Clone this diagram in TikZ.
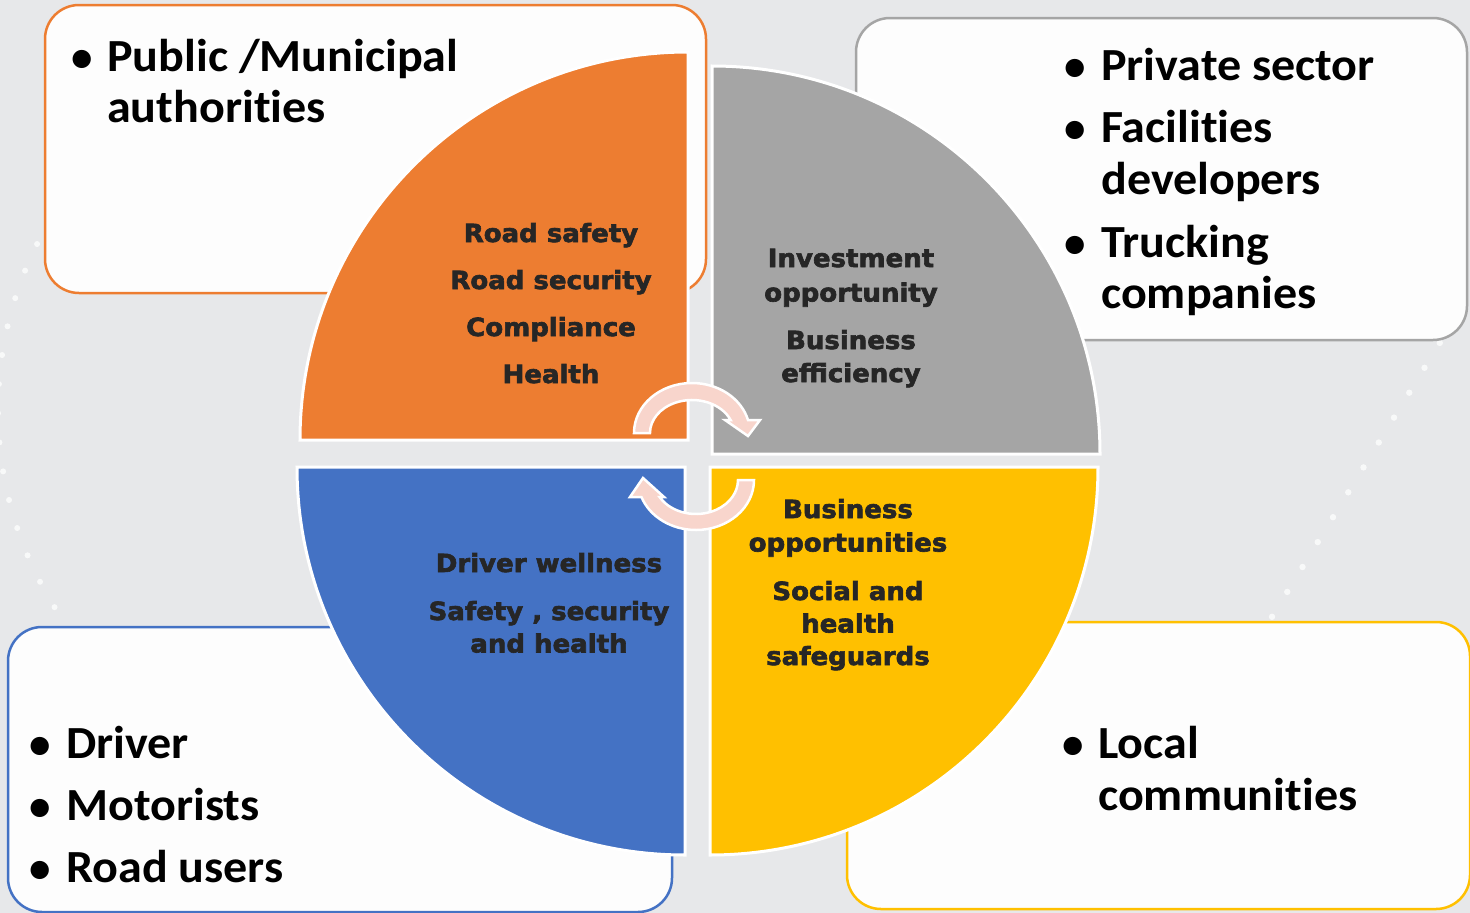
\documentclass[tikz,border=0pt]{standalone}
\usepackage{fontspec}
\newfontfamily\boxfont{Carlito}[FakeStretch=1.045, Ligatures=NoCommon]
\newfontfamily\bulfont{Carlito}
\newfontfamily\quadfont{DejaVu Sans}[FakeBold=2.5, FakeStretch=1.04]
\definecolor{bgc}{HTML}{E7E8EA}
\definecolor{orangeq}{HTML}{ED7D31}
\definecolor{grayq}{HTML}{A5A5A5}
\definecolor{yellowq}{HTML}{FFC000}
\definecolor{blueq}{HTML}{4472C4}
\definecolor{pinkA}{HTML}{F8D5CC}
\definecolor{qdark}{HTML}{262626}
\definecolor{boxfill}{HTML}{FDFDFD}
\tikzset{
  boxst/.style={fill=boxfill, line width=2.5pt, rounded corners=34pt},
  quad/.style={draw=white, line width=3pt, line join=miter},
  cyc/.style={fill=pinkA, draw=white, line width=2.5pt, line join=miter},
  boxtxt/.style={font=\boxfont\bfseries\fontsize{46}{52}\selectfont, inner sep=0pt, anchor=base west},
  bul/.style={font=\bulfont\bfseries\fontsize{43}{48}\selectfont, inner sep=0pt, anchor=base},
  qtxt/.style={font=\quadfont\bfseries\fontsize{25}{30}\selectfont, text=qdark, inner sep=0pt, anchor=base},
  dotst/.style={fill=white, opacity=0.75}
}
\begin{document}
\begin{tikzpicture}[x=1pt,y=-1pt]
\useasboundingbox (0,0) rectangle (1470,913);
\fill[bgc] (0,0) rectangle (1470,913);
% decorative dots
\foreach \i in {0,...,13} \fill[dotst] ({1455-15.25*\i},{318+24.9*\i}) circle (3.2);
\foreach \a in {148,152.5,...,212} \fill[dotst] ({370+372*cos(\a)},{410+372*sin(\a)}) circle (3);
% boxes
\draw[boxst, draw=orangeq] (45,5) rectangle (706,293);
\draw[boxst, draw=grayq] (856,18) rectangle (1467,340);
\draw[boxst, draw=blueq] (8,627) rectangle (672,912);
\draw[boxst, draw=yellowq] (847,622) rectangle (1470,909);
% quadrants
\fill[quad, fill=orangeq] (688,440) -- (300,440) arc[start angle=180, end angle=270, radius=388] -- cycle;
\fill[quad, fill=grayq] (712,454) -- (712,66) arc[start angle=270, end angle=360, radius=388] -- cycle;
\fill[quad, fill=yellowq] (710,467) -- (1098,467) arc[start angle=0, end angle=90, radius=388] -- cycle;
\fill[quad, fill=blueq] (685,467) -- (685,855) arc[start angle=90, end angle=180, radius=388] -- cycle;
% circular arrows
\filldraw[cyc] (634,433) arc[start angle=180, end angle=344.93, x radius=58, y radius=50] -- (760,420) -- (748,436) -- (725,420) -- (730.6,420) arc[start angle=336.8, end angle=180, x radius=42, y radius=33] -- cycle;
\filldraw[cyc] (754,480) arc[start angle=0, end angle=160.1, x radius=58, y radius=50] -- (630,497) -- (643,478) -- (664,497) -- (659.6,497) arc[start angle=150, end angle=0, x radius=42, y radius=34] -- cycle;
% quadrant texts
\node[qtxt] (o1) at (551,242) {Road safety};
\node[qtxt] (o2) at (551,289) {Road security};
\node[qtxt] (o3) at (551,336) {Compliance};
\node[qtxt] (o4) at (551,383) {Health};
\node[qtxt] (g1) at (851,267) {Investment};
\node[qtxt] (g2) at (851,301.5) {opportunity};
\node[qtxt] (g3) at (851,349) {Business};
\node[qtxt] (g4) at (851,382) {efficiency};
\node[qtxt] (y1) at (848,518) {Business};
\node[qtxt] (y2) at (848,551.5) {opportunities};
\node[qtxt] (y3) at (848,600) {Social and};
\node[qtxt] (y4) at (848,632.5) {health};
\node[qtxt] (y5) at (848,665) {safeguards};
\node[qtxt] (b1) at (549,572) {Driver wellness};
\node[qtxt] (b2) at (549,620) {Safety , security};
\node[qtxt] (b3) at (549,652.5) {and health};
% box texts
\node[bul] (ob1) at (82.5,71) {•};
\node[boxtxt] (ot1) at (107,71) {Public /Municipal};
\node[boxtxt] (ot2) at (107,122) {authorities};
\node[bul] (gb1) at (1075,80) {•};
\node[boxtxt] (gt1) at (1101,80) {Private sector};
\node[bul] (gb2) at (1075,142) {•};
\node[boxtxt] (gt2) at (1101,142) {Facilities};
\node[boxtxt] (gt3) at (1101,194) {developers};
\node[bul] (gb3) at (1075,257) {•};
\node[boxtxt] (gt4) at (1101,257) {Trucking};
\node[boxtxt] (gt5) at (1101,308) {companies};
\node[bul] (bb1) at (40,758) {•};
\node[boxtxt] (bt1) at (66,758) {Driver};
\node[bul] (bb2) at (40,820) {•};
\node[boxtxt] (bt2) at (66,820) {Motorists};
\node[bul] (bb3) at (40,882) {•};
\node[boxtxt] (bt3) at (66,882) {Road users};
\node[bul] (yb1) at (1073,758) {•};
\node[boxtxt] (yt1) at (1098,758) {Local};
\node[boxtxt] (yt2) at (1098,810) {communities};
\end{tikzpicture}
\end{document}
